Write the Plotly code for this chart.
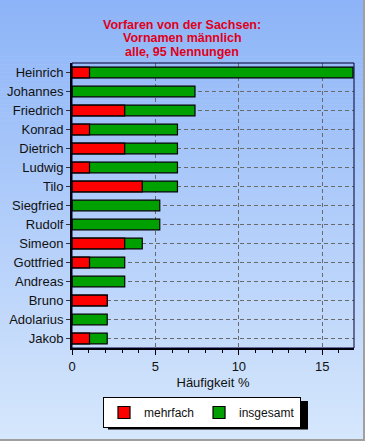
import plotly.graph_objects as go

names = ["Heinrich", "Johannes", "Friedrich", "Konrad", "Dietrich", "Ludwig", "Tilo",
         "Siegfried", "Rudolf", "Simeon", "Gottfried", "Andreas", "Bruno", "Adolarius", "Jakob"]
insgesamt = [16.84, 7.37, 7.37, 6.32, 6.32, 6.32, 6.32, 5.26, 5.26, 4.21, 3.16, 3.16, 2.11, 2.11, 2.11]
mehrfach = [1.05, 0, 3.16, 1.05, 3.16, 1.05, 4.21, 0, 0, 3.16, 1.05, 0, 2.11, 0, 1.05]
x_ticks = [0, 5, 10, 15]
title_lines = ["Vorfaren von der Sachsen:", "Vornamen männlich", "alle, 95 Nennungen"]

W, H = 365, 441
ML, MR, MT, MB = 72, 11, 63, 93
PW, PH = W - ML - MR, H - MT - MB

def px(x):
    return (x - ML) / PW

def py(y):
    return (H - MB - y) / PH

FONT = "Liberation Sans, Arial, sans-serif"

fig = go.Figure()
fig.add_trace(go.Bar(
    y=names, x=insgesamt, orientation="h", name="insgesamt",
    marker=dict(color="#00a000", line=dict(color="black", width=1.2)),
    width=0.56,
))
fig.add_trace(go.Bar(
    y=names, x=mehrfach, orientation="h", name="mehrfach",
    marker=dict(color="#ff0000", line=dict(color="black", width=1.2)),
    width=0.56,
))

shapes = []
top = (141, 180, 248)
bot = (214, 231, 252)
n = 110
for i in range(n):
    t = i / (n - 1)
    c = tuple(round(top[k] + (bot[k] - top[k]) * t) for k in range(3))
    y0 = i * H / n
    y1 = (i + 1) * H / n + 0.6
    shapes.append(dict(type="rect", xref="paper", yref="paper",
                       x0=-1, x1=2, y0=py(y1), y1=py(y0),
                       fillcolor="rgb(%d,%d,%d)" % c, line=dict(width=0), layer="below"))
shapes.append(dict(type="rect", xref="paper", yref="paper", x0=px(W - 2), x1=px(W + 5),
                   y0=py(H + 5), y1=py(-5), fillcolor="#a0a0a0", line=dict(width=0), layer="below"))
shapes.append(dict(type="rect", xref="paper", yref="paper", x0=px(-5), x1=px(W + 5),
                   y0=py(H + 5), y1=py(H - 2), fillcolor="#a0a0a0", line=dict(width=0), layer="below"))
shapes.append(dict(type="rect", xref="paper", yref="paper", x0=0, x1=1, y0=0, y1=1,
                   line=dict(color="#000030", width=1), layer="above"))
# legend drop shadow
shapes.append(dict(type="rect", xref="paper", yref="paper", x0=px(108), x1=px(308),
                   y0=py(429.5), y1=py(401), fillcolor="black", line=dict(width=0), layer="below"))

annotations = []
for i, line in enumerate(title_lines):
    annotations.append(dict(
        text="<b>%s</b>" % line, xref="paper", yref="paper",
        x=px(182), y=py(25 + 13.3 * i), xanchor="center", yanchor="middle",
        showarrow=False, font=dict(family=FONT, size=12.5, color="#e0001a"),
    ))

fig.update_layout(
    width=W, height=H,
    margin=dict(l=ML, r=MR, t=MT, b=MB, autoexpand=False),
    paper_bgcolor="rgb(214,231,252)",
    plot_bgcolor="rgba(0,0,0,0)",
    barmode="overlay",
    font=dict(family=FONT, size=13, color="#111111"),
    xaxis=dict(
        range=[0, 16.9], tickvals=x_ticks, ticks="outside", ticklen=5, tickcolor="black",
        minor=dict(dtick=1, ticks="outside", ticklen=3, tickcolor="black", showgrid=False),
        showgrid=True, gridcolor="#6a6a6a", griddash="4px,3px", gridwidth=1,
        showline=True, linecolor="black", linewidth=2, zeroline=False,
        title=dict(text="Häufigkeit %", font=dict(size=13), standoff=5),
        tickfont=dict(size=13), automargin=False,
    ),
    yaxis=dict(
        categoryorder="array", categoryarray=names[::-1],
        ticks="outside", ticklen=4, tickcolor="#333333",
        showgrid=True, gridcolor="#6a6a6a", griddash="4px,3px", gridwidth=1,
        showline=True, linecolor="black", linewidth=2,
        tickfont=dict(size=13), automargin=False,
    ),
    legend=dict(
        orientation="h", x=px(202), xanchor="center", y=py(397), yanchor="top",
        bgcolor="white", bordercolor="black", borderwidth=1,
        font=dict(size=12, color="#111111"), traceorder="reversed",
        itemwidth=30, tracegroupgap=0,
    ),
    shapes=shapes,
    annotations=annotations,
)

fig.write_html("out.html", config={"displayModeBar": False},
               post_script="document.body.style.margin='0';")
